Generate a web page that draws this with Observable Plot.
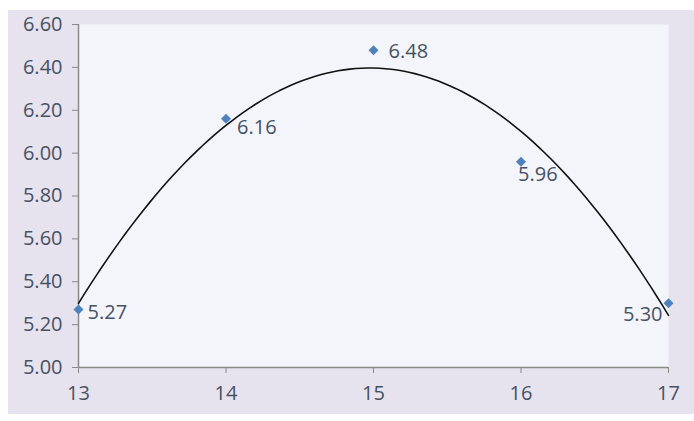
<!DOCTYPE html>
<html>
<head>
<meta charset="utf-8">
<script src="https://cdn.jsdelivr.net/npm/d3@7"></script>
<script src="https://cdn.jsdelivr.net/npm/@observablehq/plot@0.6"></script>
<style>
  html, body { margin: 0; padding: 0; background: #ffffff; }
  #wrap { position: relative; width: 694px; height: 421px; overflow: hidden; }
  #bg { position: absolute; left: 8px; top: 10px; width: 686px; height: 404px; background: #e6e2ee; }
  #chart { position: absolute; left: 0; top: 0; }
</style>
</head>
<body>
<div id="wrap"><div id="bg"></div><div id="chart"></div></div>
<script>
const xValues = [13, 14, 15, 16, 17];
const yValues = [5.27, 6.16, 6.48, 5.96, 5.30];
const yTicks = [5.00, 5.20, 5.40, 5.60, 5.80, 6.00, 6.20, 6.40, 6.60];
const xTicks = [13, 14, 15, 16, 17];

const points = xValues.map((x, i) => ({x, y: yValues[i], i}));

// Excel-style second-order polynomial trendline: least-squares fit of the data
function quadFit(xs, ys) {
  const n = xs.length;
  const mx = d3.mean(xs);
  const t = xs.map(x => x - mx);
  const s2 = d3.sum(t, v => v * v), s4 = d3.sum(t, v => v ** 4);
  const s1y = d3.sum(t, (v, i) => v * ys[i]), s2y = d3.sum(t, (v, i) => v * v * ys[i]);
  const sy = d3.sum(ys);
  const b = s1y / s2;
  const c = (n * s2y - s2 * sy) / (n * s4 - s2 * s2);
  const a = (sy - c * s2) / n;
  return x => a + b * (x - mx) + c * (x - mx) ** 2;
}
const f = quadFit(xValues, yValues);
const trend = d3.range(13, 17.0001, 0.04).map(x => ({x, y: f(x)}));

const font = "'Open Sans', 'Liberation Sans', sans-serif";
const textColor = "#465163";
const fs = 20;

const chart = Plot.plot({
  width: 694,
  height: 421,
  marginLeft: 78,
  marginRight: 26,
  marginTop: 24,
  marginBottom: 54,
  style: {background: "transparent", fontFamily: font, color: textColor},
  x: {domain: [13, 17]},
  y: {domain: [5.0, 6.6]},
  marks: [
    Plot.frame({fill: "#f3f5fa", stroke: null}),
    Plot.ruleX([13], {stroke: "#8a8a8a", strokeWidth: 1.5}),
    Plot.ruleY([5.0], {stroke: "#8a8a8a", strokeWidth: 1.5}),
    Plot.axisY({ticks: yTicks, tickFormat: d => d.toFixed(2), tickSize: 6, tickPadding: 10,
      stroke: "#8a8a8a", fontSize: fs, fill: textColor, label: null}),
    Plot.axisX({ticks: xTicks, tickFormat: d => String(d), tickSize: 6, tickPadding: 12,
      stroke: "#8a8a8a", fontSize: fs, fill: textColor, label: null}),
    Plot.line(trend, {x: "x", y: "y", stroke: "#111111", strokeWidth: 1.6}),
    Plot.dot(points, {x: "x", y: "y", symbol: "diamond2", r: 4.5, fill: "#4f81bd", stroke: null}),
    // data labels
    Plot.text(points.filter(d => d.i === 0), {x: "x", y: "y", text: d => d.y.toFixed(2),
      textAnchor: "start", dx: 9, dy: 3, fontSize: fs, fill: textColor}),
    Plot.text(points.filter(d => d.i === 2), {x: "x", y: "y", text: d => d.y.toFixed(2),
      textAnchor: "start", dx: 15, dy: 1, fontSize: fs, fill: textColor}),
    Plot.text(points.filter(d => d.i === 1), {x: "x", y: "y", text: d => d.y.toFixed(2),
      textAnchor: "start", dx: 11, dy: 9, fontSize: fs, fill: textColor}),
    Plot.text(points.filter(d => d.i === 3), {x: "x", y: "y", text: d => d.y.toFixed(2),
      textAnchor: "start", dx: -3, dy: 13, fontSize: fs, fill: textColor}),
    Plot.text(points.filter(d => d.i === 4), {x: "x", y: "y", text: d => d.y.toFixed(2),
      textAnchor: "end", dx: -6, dy: 11, fontSize: fs, fill: textColor})
  ]
});
document.getElementById("chart").appendChild(chart);
</script>
</body>
</html>
